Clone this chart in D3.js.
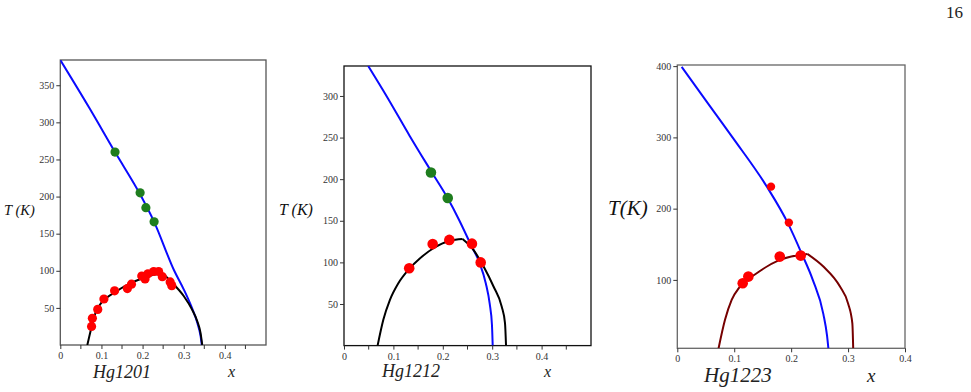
<!DOCTYPE html>
<html>
<head>
<meta charset="utf-8">
<script src="https://cdn.jsdelivr.net/npm/d3@7"></script>
<style>
  body { margin: 0; background: #fff; }
  svg { display: block; }
  text { font-family: "Liberation Serif", "Times New Roman", "DejaVu Serif", serif; }
</style>
</head>
<body>
<div id="chart"></div>
<script>
// ---- data: [x, T(K)] ----
// Hg1201
const hg1201Blue = [[0, 384], [0.07, 320], [0.133, 260], [0.195, 202], [0.228, 166], [0.277, 100], [0.3, 75], [0.32, 50], [0.333, 30], [0.341, 12], [0.344, 0]];
const hg1201BlackLeft = [[0.0657, 0], [0.075, 22], [0.086, 44], [0.1, 57], [0.13, 70], [0.17, 83], [0.2, 90], [0.23, 95], [0.25, 96]];
const hg1201BlackRight = [[0.25, 96], [0.27, 85], [0.3, 66], [0.32, 48], [0.333, 32], [0.341, 16], [0.345, 0]];
const hg1201Red = [[0.076, 25], [0.078, 36], [0.091, 48], [0.106, 62], [0.132, 73], [0.163, 76], [0.173, 82], [0.198, 93], [0.206, 89], [0.213, 96], [0.227, 99], [0.239, 99], [0.248, 92], [0.267, 85], [0.271, 80]];
const hg1201Green = [[0.133, 260], [0.194, 205], [0.208, 185], [0.228, 166]];

// Hg1212
const hg1212Blue = [[0.049, 336], [0.086, 300], [0.133, 252], [0.178, 208], [0.21, 177], [0.233, 151], [0.257, 121], [0.274, 100], [0.287, 75], [0.295, 50], [0.2995, 25], [0.301, 0]];
const hg1212BlackLeft = [[0.068, 0], [0.0796, 31], [0.093, 55], [0.11, 75], [0.1316, 92], [0.154, 105], [0.181, 117], [0.2146, 126], [0.24, 128]];
const hg1212BlackRight = [[0.24, 128], [0.262, 115], [0.2826, 95], [0.3027, 71], [0.3192, 47], [0.3259, 27], [0.328, 0]];
const hg1212Red = [[0.132, 93], [0.1795, 122], [0.2132, 127], [0.259, 122.5], [0.2767, 100]];
const hg1212Green = [[0.176, 208], [0.21, 177.4]];

// Hg1223
const hg1223Blue = [[0.0077, 399], [0.05, 352], [0.097, 300], [0.158, 230], [0.194, 180], [0.2185, 137], [0.238, 100], [0.2566, 52], [0.263, 22], [0.2654, 4]];
const hg1223MaroonLeft = [[0.0725, 4], [0.0838, 44], [0.0955, 72], [0.11, 90.6], [0.1395, 109.4], [0.18, 128], [0.2284, 136.5]];
const hg1223MaroonRight = [[0.2284, 136.5], [0.2566, 118.7], [0.2858, 90.6], [0.3, 67], [0.3075, 39], [0.309, 4]];
const hg1223RedBig = [[0.1149, 95.4], [0.1248, 104.6], [0.18, 132.7], [0.2168, 134.1]];
const hg1223RedSmall = [[0.1646, 230.9], [0.196, 180.4]];

const xTicks1 = [0, 0.1, 0.2, 0.3, 0.4];
const xMinor1 = [0.05, 0.15, 0.25, 0.35, 0.45];
const yTicks1 = [50, 100, 150, 200, 250, 300, 350];
const yTicks2 = [50, 100, 150, 200, 250, 300];
const yTicks3 = [100, 200, 300, 400];

const W = 971, H = 392;
const serif = "Liberation Serif, Times New Roman, DejaVu Serif, serif";

const svg = d3.select("#chart").append("svg")
  .attr("width", W).attr("height", H)
  .attr("font-family", serif);

svg.append("text")
  .attr("x", 963).attr("y", 18)
  .attr("text-anchor", "end")
  .attr("font-family", serif).attr("font-size", 17).attr("fill", "#222")
  .text("16");

const lineGen = (x, y) => d3.line()
  .x(d => x(d[0])).y(d => y(d[1]))
  .curve(d3.curveMonotoneX);

function drawPanel(p) {
  const x = d3.scaleLinear().domain(p.xDomain).range([p.left, p.right]);
  const y = d3.scaleLinear().domain(p.yDomain).range([p.bottom, p.top]);
  const g = svg.append("g");

  const clipId = "clip" + p.id;
  g.append("clipPath").attr("id", clipId)
    .append("rect")
    .attr("x", p.left).attr("y", p.top)
    .attr("width", p.right - p.left).attr("height", p.bottom - p.top);

  // frame
  g.append("rect")
    .attr("x", p.left).attr("y", p.top)
    .attr("width", p.right - p.left).attr("height", p.bottom - p.top)
    .attr("fill", "none").attr("stroke", p.frame).attr("stroke-width", 1.3);

  // x axis
  const xAxis = g.append("g")
    .attr("transform", `translate(0,${p.bottom})`)
    .call(d3.axisBottom(x).tickValues(p.xTicks).tickSize(4).tickPadding(3)
      .tickFormat(d => d === 0 ? "0" : d3.format(".1f")(d)));
  if (p.xMinor) {
    xAxis.selectAll(".minor").data(p.xMinor).enter().append("line")
      .attr("x1", d => x(d)).attr("x2", d => x(d))
      .attr("y1", 0).attr("y2", 4).attr("stroke", "#333");
  }
  // y axis
  const yAxis = g.append("g")
    .attr("transform", `translate(${p.left},0)`)
    .call(d3.axisLeft(y).tickValues(p.yTicks).tickSize(4).tickPadding(2));
  [xAxis, yAxis].forEach(a => {
    a.attr("font-family", serif).attr("font-size", p.tickFont);
    a.select(".domain").remove();
    a.selectAll(".tick line").attr("stroke", "#333");
    a.selectAll("text").attr("font-family", serif)
      .attr("font-size", p.tickFont).attr("fill", "#333");
  });

  const plot = g.append("g").attr("clip-path", `url(#${clipId})`);
  const line = lineGen(x, y);
  p.lines.forEach(l => {
    plot.append("path").datum(l.data)
      .attr("d", line)
      .attr("fill", "none").attr("stroke", l.color)
      .attr("stroke-width", 2).attr("stroke-linejoin", "round");
  });
  p.dots.forEach(s => {
    plot.selectAll(null).data(s.data).enter().append("circle")
      .attr("cx", d => x(d[0])).attr("cy", d => y(d[1]))
      .attr("r", s.r).attr("fill", s.color);
  });

  // labels
  const label = (pos, txt, col) => g.append("text")
    .attr("x", pos[0]).attr("y", pos[1])
    .attr("font-family", serif).attr("font-style", "italic")
    .attr("font-size", pos[2]).attr("fill", col)
    .text(txt);
  label(p.tLabel, p.tText, "#111");
  label(p.nameLabel, p.name, "#222");
  label(p.xLabel, "x", "#222");
}

drawPanel({
  id: 1, left: 60.3, right: 266, top: 60, bottom: 345,
  xDomain: [0, 0.5], yDomain: [0, 384],
  xTicks: xTicks1, xMinor: xMinor1, yTicks: yTicks1, tickFont: 10,
  frame: "#555",
  lines: [
    { data: hg1201Blue, color: "#0a0aff" },
    { data: hg1201BlackLeft, color: "#000" },
    { data: hg1201BlackRight, color: "#000" }
  ],
  dots: [
    { data: hg1201Red, color: "#ff0000", r: 4.6 },
    { data: hg1201Green, color: "#1e7d1e", r: 4.6 }
  ],
  tText: "T (K)", tLabel: [4, 215, 14.5],
  name: "Hg1201", nameLabel: [93, 378, 18],
  xLabel: [228, 377, 16]
});

drawPanel({
  id: 2, left: 344, right: 591, top: 66, bottom: 345.6,
  xDomain: [0, 0.5], yDomain: [0, 336],
  xTicks: xTicks1, xMinor: xMinor1, yTicks: yTicks2, tickFont: 10,
  frame: "#111",
  lines: [
    { data: hg1212Blue, color: "#0a0aff" },
    { data: hg1212BlackLeft, color: "#000" },
    { data: hg1212BlackRight, color: "#000" }
  ],
  dots: [
    { data: hg1212Red, color: "#ff0000", r: 5.3 },
    { data: hg1212Green, color: "#1e7d1e", r: 5.3 }
  ],
  tText: "T (K)", tLabel: [279, 215, 16],
  name: "Hg1212", nameLabel: [382, 377, 18],
  xLabel: [544, 377, 16]
});

drawPanel({
  id: 3, left: 677.3, right: 905, top: 65, bottom: 348.3,
  xDomain: [0, 0.4], yDomain: [4, 401.6],
  xTicks: xTicks1, xMinor: null, yTicks: yTicks3, tickFont: 10,
  frame: "#666",
  lines: [
    { data: hg1223Blue, color: "#0a0aff" },
    { data: hg1223MaroonLeft, color: "#760000" },
    { data: hg1223MaroonRight, color: "#760000" }
  ],
  dots: [
    { data: hg1223RedBig, color: "#ff0000", r: 5.3 },
    { data: hg1223RedSmall, color: "#ff0000", r: 4.2 }
  ],
  tText: "T(K)", tLabel: [608, 215, 21],
  name: "Hg1223", nameLabel: [704, 382, 21],
  xLabel: [867, 382, 19]
});
</script>
</body>
</html>
